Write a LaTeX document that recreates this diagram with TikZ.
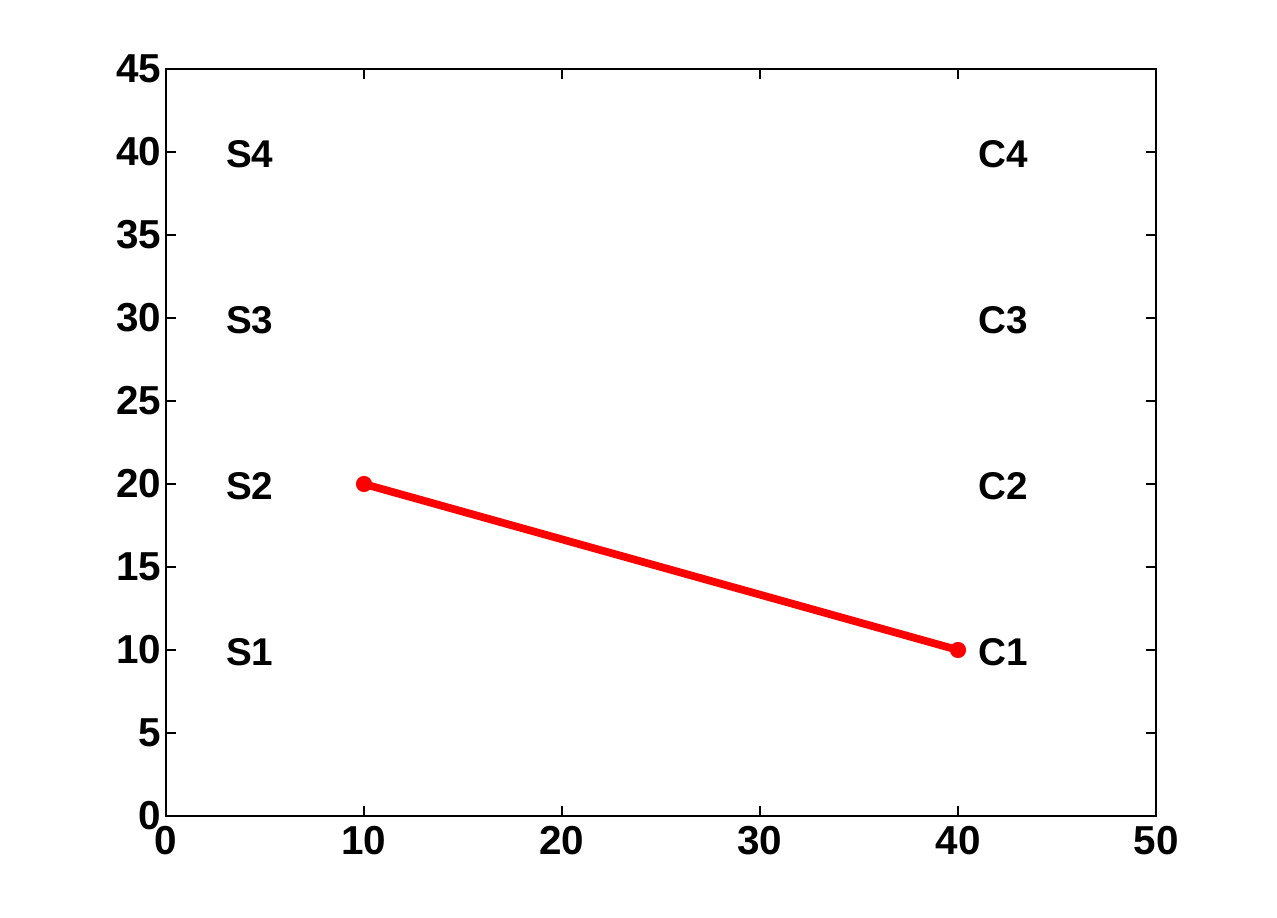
\documentclass[tikz,border=0pt]{standalone}
\usepackage{fontspec}
\setmainfont{Liberation Sans}
\usetikzlibrary{positioning}
\tikzset{
  axln/.style   = { draw, line width=0.35pt },
  ticklbl/.style = { font=\fontsize{11.5}{13}\selectfont\bfseries, inner sep=0pt },
  ptlbl/.style  = { font=\fontsize{11}{13}\selectfont\bfseries, inner sep=0pt, anchor=west },
  redln/.style  = { draw=red, line width=2.2pt },
  mrk/.style    = { fill=red, circle, inner sep=0pt, minimum size=4.6pt }
}
\begin{document}
\begin{tikzpicture}[x=0.198cm,y=0.166cm]
    \useasboundingbox (-8.3838,-6.0843) rectangle (56.111,49.157);
    \draw[axln] (0,0) rectangle (50,45);
    \foreach \x in {0,10,...,50} {
      \draw[axln] (\x,0) -- ++(0,0.6) (\x,45) -- ++(0,-0.6);
      \node[ticklbl, anchor=north] (xt\x) at (\x,-0.6) {\x};
    }
    \foreach \y in {0,5,...,45} {
      \draw[axln] (0,\y) -- ++(0.5,0) (50,\y) -- ++(-0.5,0);
      \node[ticklbl, anchor=east] (yt\y) at (-0.2,\y) {\y};
    }
    \foreach \i in {1,...,4} {
      \node[ptlbl] (s\i) at (3,10*\i-0.15) {S\i};
      \node[ptlbl] (c\i) at (41,10*\i-0.15) {C\i};
    }
    \node[mrk] (m1) at (10,20) {};
    \node[mrk] (m2) at (40,10) {};
    \path[redln] (m1.center) -- (m2.center);
\end{tikzpicture}
\end{document}
